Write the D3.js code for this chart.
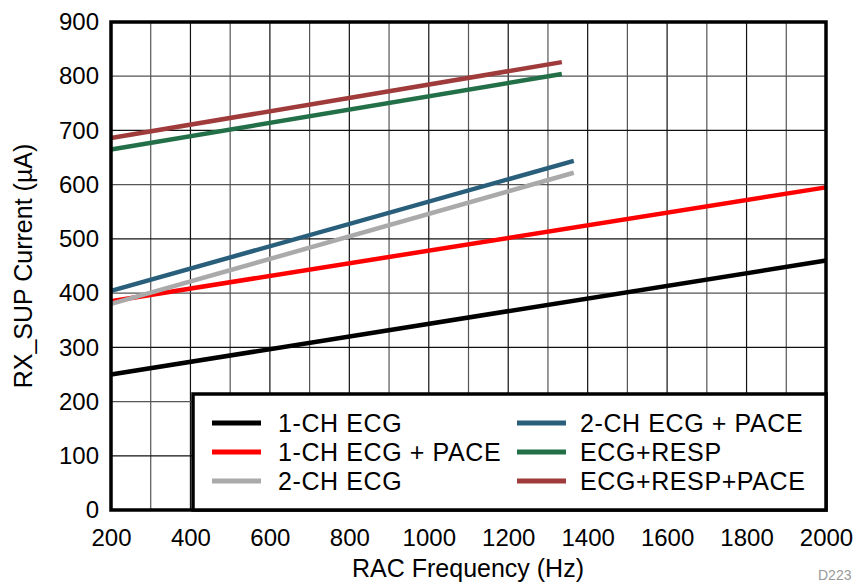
<!DOCTYPE html>
<html><head><meta charset="utf-8">
<script src="https://cdn.jsdelivr.net/npm/d3@7"></script>
<style>body{margin:0;background:#fff}text{font-family:"Liberation Sans",Arial,sans-serif}</style>
</head><body><svg id="c" width="867" height="585"></svg>
<script>
const xTicks = [200,400,600,800,1000,1200,1400,1600,1800,2000];
const yTicks = [0,100,200,300,400,500,600,700,800,900];
const seriesNames = ["1-CH ECG","1-CH ECG + PACE","2-CH ECG","2-CH ECG + PACE","ECG+RESP","ECG+RESP+PACE"];
const seriesColors = ["#000000","#ff0000","#aaaaaa","#2a5f7c","#237048","#a03b3b"];
const freqStart = [200,200,200,200,200,200];
const freqEnd = [2000,2000,1365,1365,1335,1335];
const currStart = [250,385,380,404,665,686];
const currEnd = [460,595,622,644,804,826];

const svg = d3.select("#c");
const L=111,R=826,T=22,B=510;
const x = d3.scaleLinear().domain([200,2000]).range([L,R]);
const y = d3.scaleLinear().domain([0,900]).range([B,T]);
const FF = "Liberation Sans, Arial, sans-serif";

// grid
const g = svg.append("g");
d3.range(300,2000,100).forEach(v=>{
  g.append("line").attr("x1",x(v)).attr("x2",x(v)).attr("y1",T).attr("y2",B)
   .attr("stroke",v%200===0?"#111":"#555").attr("stroke-width",1.2);
});
d3.range(100,900,100).forEach(v=>{
  g.append("line").attr("x1",L).attr("x2",R).attr("y1",y(v)).attr("y2",y(v))
   .attr("stroke",v%200===0?"#555":"#111").attr("stroke-width",1.2);
});

// series
const line = d3.line().x(d=>x(d[0])).y(d=>y(d[1]));
seriesNames.forEach((n,i)=>{
  svg.append("path").datum([[freqStart[i],currStart[i]],[freqEnd[i],currEnd[i]]])
   .attr("d",line).attr("stroke",seriesColors[i]).attr("stroke-width",4.5).attr("fill","none");
});

// frame
svg.append("rect").attr("x",L).attr("y",T).attr("width",R-L).attr("height",B-T)
  .attr("fill","none").attr("stroke","#000").attr("stroke-width",3.5);

// axes
const xAxis = d3.axisBottom(x).tickValues(xTicks).tickFormat(d3.format("d")).tickSize(0).tickPadding(19);
const xa = svg.append("g").attr("transform",`translate(0,${B})`).call(xAxis);
xa.select(".domain").remove();
xa.selectAll("text").attr("font-size",24).attr("fill","#000").attr("font-family",FF);
const yAxis = d3.axisLeft(y).tickValues(yTicks).tickFormat(d3.format("d")).tickSize(0).tickPadding(12);
const ya = svg.append("g").attr("transform",`translate(${L},0)`).call(yAxis);
ya.select(".domain").remove();
ya.selectAll("text").attr("font-size",24).attr("fill","#000").attr("font-family",FF);

svg.append("text").attr("x",468).attr("y",577).attr("text-anchor","middle")
  .attr("font-size",25).text("RAC Frequency (Hz)");
svg.append("text").attr("transform",`translate(32,${(T+B)/2}) rotate(-90)`).attr("text-anchor","middle")
  .attr("font-size",25).text("RX_SUP Current (µA)");
svg.append("text").attr("x",818).attr("y",580).attr("font-size",14).attr("fill","#999").text("D223");

// legend
const lg = svg.append("g");
lg.append("rect").attr("x",193).attr("y",394).attr("width",R-193).attr("height",B-394)
  .attr("fill","#fff").attr("stroke","#000").attr("stroke-width",3.5);
seriesNames.forEach((n,i)=>{
  const col = Math.floor(i/3), row = i%3;
  const lx = col===0?212:517, ty = 423+row*29;
  lg.append("line").attr("x1",lx).attr("x2",lx+49).attr("y1",ty).attr("y2",ty)
    .attr("stroke",seriesColors[i]).attr("stroke-width",5);
  lg.append("text").attr("x",col===0?278:580).attr("y",ty+9).attr("font-size",25)
    .attr("letter-spacing",0.6).text(n);
});
</script></body></html>
